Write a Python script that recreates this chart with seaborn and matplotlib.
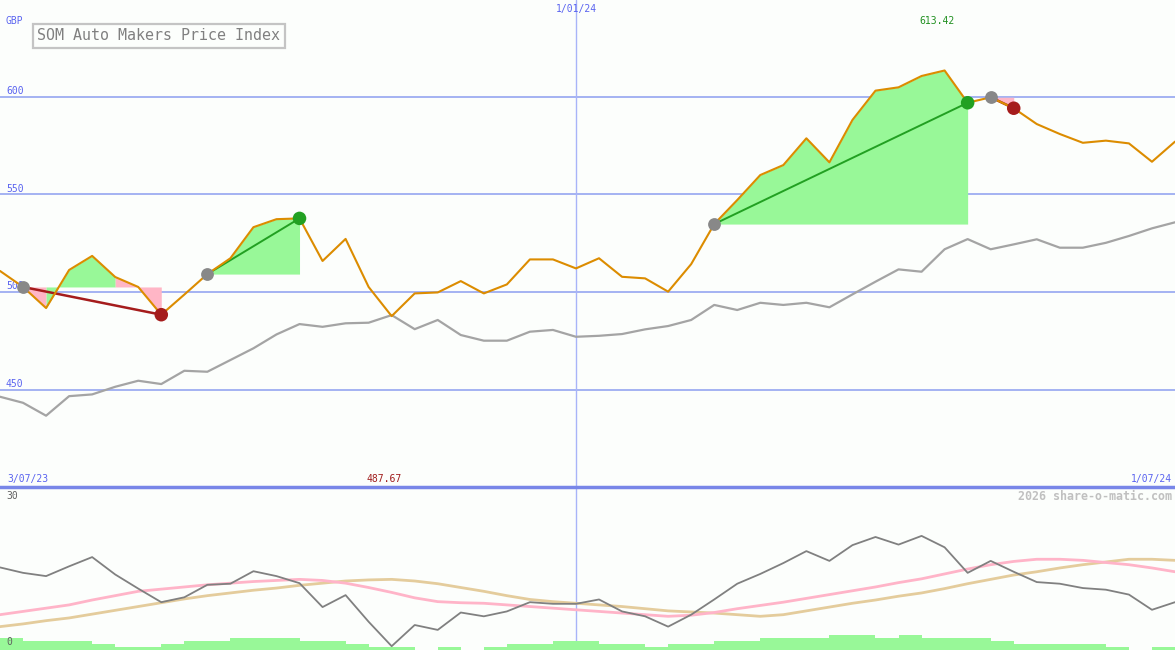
import numpy as np
import pandas as pd
import seaborn as sns
import matplotlib.pyplot as plt

sns.set_style("white")
plt.rcParams['font.family'] = ['DejaVu Sans Mono', 'DejaVu Sans']

# weekly closes, 3/07/23 .. 1/07/24
price = [510.8, 502.6, 491.8, 511.3, 518.5, 507.7, 502.6, 488.4, 498.7, 509.2,
         517.3, 533.2, 537.3, 537.7, 515.9, 527.2, 502.6, 487.67, 499.3, 499.8,
         505.6, 499.3, 503.9, 516.7, 516.7, 512.1, 517.3, 507.8, 507.0, 500.2,
         514.3, 534.8, 547.1, 559.9, 565.0, 578.7, 566.4, 588.1, 603.1, 604.8,
         610.6, 613.42, 596.9, 599.7, 594.1, 586.0, 580.9, 576.4, 577.5, 576.1,
         566.7, 577.0]
# comparison index (grey)
market = [446.4, 443.3, 436.7, 446.7, 447.6, 451.5, 454.6, 452.9, 459.7, 459.2,
          465.2, 471.2, 478.3, 483.6, 482.2, 484.0, 484.3, 488.2, 481.0, 485.7,
          478.0, 475.1, 475.1, 479.7, 480.6, 477.1, 477.6, 478.5, 480.9, 482.6,
          485.7, 493.4, 490.8, 494.5, 493.4, 494.5, 492.2, 498.8, 505.3, 511.6,
          510.4, 521.9, 527.1, 521.9, 524.4, 527.0, 522.7, 522.7, 525.2, 528.7,
          532.6, 535.7]
# lower panel
osc = [15.2, 14.2, 13.6, 15.4, 17.1, 13.9, 11.3, 8.8, 9.7, 12.0,
       12.2, 14.5, 13.6, 12.3, 7.9, 10.1, 5.2, 0.7, 4.6, 3.7,
       6.9, 6.2, 7.1, 8.8, 8.5, 8.5, 9.3, 7.1, 6.2, 4.3,
       6.5, 9.3, 12.2, 14.0, 16.0, 18.2, 16.4, 19.3, 20.8, 19.4,
       21.0, 18.9, 14.2, 16.4, 14.4, 12.5, 12.2, 11.4, 11.1, 10.2,
       7.4, 8.8]
osc_fast = [6.5, 7.1, 7.7, 8.3, 9.2, 10.0, 10.8, 11.2, 11.6, 12.0,
            12.3, 12.6, 12.8, 13.0, 12.8, 12.3, 11.5, 10.6, 9.6, 8.9,
            8.7, 8.6, 8.3, 8.0, 7.7, 7.4, 7.1, 6.8, 6.5, 6.2,
            6.4, 6.9, 7.6, 8.2, 8.8, 9.5, 10.2, 10.9, 11.6, 12.4,
            13.1, 14.0, 14.9, 15.7, 16.3, 16.7, 16.7, 16.5, 16.1, 15.7,
            15.1, 14.4]
osc_slow = [4.3, 4.8, 5.4, 5.9, 6.6, 7.3, 8.0, 8.7, 9.4, 10.0,
            10.5, 11.0, 11.4, 11.9, 12.3, 12.7, 12.9, 13.0, 12.7, 12.2,
            11.5, 10.8, 10.0, 9.3, 8.9, 8.6, 8.3, 8.0, 7.6, 7.2,
            7.0, 6.8, 6.5, 6.2, 6.5, 7.2, 7.9, 8.6, 9.2, 9.9,
            10.5, 11.3, 12.2, 13.0, 13.8, 14.4, 15.1, 15.7, 16.2, 16.7,
            16.7, 16.5]
volume = [2.2, 1.7, 1.7, 1.7, 1.1, 0.5, 0.5, 1.1, 1.7, 1.7,
          2.2, 2.2, 2.2, 1.7, 1.7, 1.1, 0.5, 0.5, 0.0, 0.5,
          0.0, 0.5, 1.1, 1.1, 1.7, 1.7, 1.1, 1.1, 0.5, 1.1,
          1.1, 1.7, 1.7, 2.2, 2.2, 2.2, 2.8, 2.8, 2.2, 2.8,
          2.2, 2.2, 2.2, 1.7, 1.1, 1.1, 1.1, 1.1, 0.5, 0.0,
          0.5]

# trade signals (week indices)
trend_from = [1, 9, 31, 43]
trend_to = [7, 13, 42, 44]
trend_gain = [False, True, True, False]
fill_from = [1, 2, 5, 9, 31, 43]
fill_to = [2, 5, 7, 13, 42, 44]
fill_base = [1, 1, 1, 9, 31, 43]
fill_gain = [False, True, False, True, True, False]

grid_levels = [450, 500, 550, 600]
mid_week = 25
start_label, mid_label, end_label = "3/07/23", "1/01/24", "1/07/24"

weeks = np.arange(len(price))
df = pd.DataFrame({"week": weeks, "price": price, "market": market,
                   "osc": osc, "fast": osc_fast, "slow": osc_slow})

bg = '#fcfefc'
blue = '#5a64f0'
up_c, down_c = '#22a022', '#a51c1c'

fig = plt.figure(figsize=(11.75, 6.5), dpi=100)
fig.patch.set_facecolor(bg)
ax = fig.add_axes([0, 163 / 650, 1, 487 / 650])
ax2 = fig.add_axes([0, 0, 1, 163 / 650])
for a in (ax, ax2):
    a.set_facecolor(bg)
    a.set_xlim(0, len(price) - 1)
    a.set_xticks([])
    a.set_yticks([])
    for s in a.spines.values():
        s.set_visible(False)
ax.set_ylim(400.2, 649.5)
ax2.set_ylim(0, 30)
ax2.spines['top'].set_visible(True)
ax2.spines['top'].set_color('#7886e8')
ax2.spines['top'].set_linewidth(2.5)

# grid
for lv in grid_levels:
    ax.axhline(lv, color='#a4b2f2', lw=1.4, zorder=1)
    ax.annotate(str(lv), xy=(0, lv), xycoords=('axes fraction', 'data'),
                xytext=(4.3, 4.2), textcoords='offset points',
                ha='left', va='center', fontsize=7, color=blue, zorder=2)
ax.axvline(mid_week, color='#a8b4f8', lw=1, zorder=1)
ax2.axvline(mid_week, color='#a8b4f8', lw=1, zorder=1)

# signal fills
for a0, b0, base, g in zip(fill_from, fill_to, fill_base, fill_gain):
    seg = df.iloc[a0:b0 + 1]
    ax.fill_between(seg["week"], seg["price"], price[base],
                    color='#98f898' if g else '#ffb6c6', lw=0, zorder=2)

sns.lineplot(data=df, x="week", y="market", ax=ax, color='#a4a4a4', lw=1.6, zorder=3)

for a0, b0, g in zip(trend_from, trend_to, trend_gain):
    ax.plot([a0, b0], [price[a0], price[b0]], color=up_c if g else down_c,
            lw=1.4 if g else 1.8, zorder=3.5)

sns.lineplot(data=df, x="week", y="price", ax=ax, color='#dc8c00', lw=1.5, zorder=4)

sns.scatterplot(x=trend_from, y=[price[i] for i in trend_from], ax=ax,
                color='#888888', s=85, linewidth=0, zorder=6)
sns.scatterplot(x=trend_to, y=[price[i] for i in trend_to], ax=ax,
                hue=trend_gain, palette={True: up_c, False: down_c},
                s=95, linewidth=0, zorder=6, legend=False)

ax.set_xlabel("")
ax.set_ylabel("")

# texts
fig.text(6 / 1175, 1 - 21 / 650, "GBP", fontsize=7, color=blue, va='center')
fig.text(37 / 1175, 1 - 36 / 650, "SOM Auto Makers Price Index", fontsize=10.8,
         color='#808080', va='center', ha='left',
         bbox=dict(boxstyle='square,pad=0.3', fc=bg, ec='#c4c4c4', lw=1.6))
ax.text(mid_week, 1 - 9 / 487, mid_label, transform=ax.get_xaxis_transform(),
        ha='center', va='center', fontsize=7, color=blue)
i_hi = int(np.argmax(price))
i_lo = int(np.argmin(price))
ax.annotate(f"{price[i_hi]:.2f}", xy=(i_hi, 1 - 21 / 487),
            xycoords=('data', 'axes fraction'), xytext=(-5.4, 0),
            textcoords='offset points', ha='center', va='center',
            fontsize=7, color='#209020')
ax.annotate(f"{price[i_lo]:.2f}", xy=(i_lo, 8 / 487),
            xycoords=('data', 'axes fraction'), xytext=(-5.4, 0),
            textcoords='offset points', ha='center', va='center',
            fontsize=7, color='#a01c1c')
ax.text(7 / 1175, 8 / 487, start_label, transform=ax.transAxes,
        ha='left', va='center', fontsize=7, color=blue)
ax.text(1 - 3 / 1175, 8 / 487, end_label, transform=ax.transAxes,
        ha='right', va='center', fontsize=7, color=blue)

# lower panel
ax2.bar(weeks[:-1], volume, width=1, align='edge', color='#98f898', lw=0, zorder=1)
sns.lineplot(data=df, x="week", y="slow", ax=ax2, color='#e4cc9c', lw=2, zorder=3)
sns.lineplot(data=df, x="week", y="fast", ax=ax2, color='#ffb4c8', lw=2, zorder=3)
sns.lineplot(data=df, x="week", y="osc", ax=ax2, color='#808080', lw=1.3, zorder=4)
ax2.set_xlabel("")
ax2.set_ylabel("")
ax2.text(6 / 1175, 1 - 9 / 163, "30", transform=ax2.transAxes, fontsize=7,
         color='#606060', va='center', ha='left')
ax2.text(6 / 1175, 8 / 163, "0", transform=ax2.transAxes, fontsize=7,
         color='#606060', va='center', ha='left', zorder=5)
ax2.text(1 - 3 / 1175, 1 - 9 / 163, "2026 share-o-matic.com", transform=ax2.transAxes,
         fontsize=8.4, color='#c0c0c0', fontweight='bold', va='center', ha='right')

plt.savefig("out.png", dpi=100, facecolor=bg)
